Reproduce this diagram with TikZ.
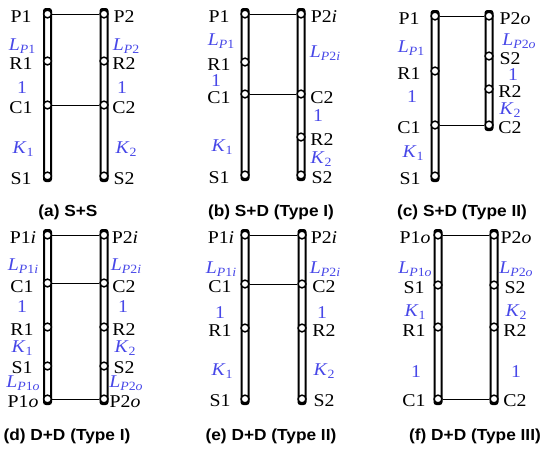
\documentclass[tikz,border=0pt]{standalone}
\usepackage{fontspec}
\setmainfont{Liberation Serif}[FakeStretch=1.1]
\newfontfamily\capfont{Liberation Sans}[FakeStretch=1.08]
\definecolor{parblue}{RGB}{72,72,232}
% lowered, smaller index for the symbols L and K
\newcommand{\lowidx}[1]{\raisebox{-3pt}{\fontsize{12.6}{13}\selectfont #1}}
\newcommand{\Lsym}[1]{\textit{L}\lowidx{\textit{P}#1}}
\newcommand{\Ksym}[1]{\textit{K}\lowidx{#1}}
\tikzset{
  bar/.style={draw, line width=2pt, rounded corners=2pt, fill=white},
  joint/.style={circle, draw, fill=white, line width=1.5pt, minimum size=7.8pt, inner sep=0pt},
  link/.style={line width=1pt},
  tag/.style={anchor=base, inner sep=0pt, font=\fontsize{18}{18}\selectfont},
  ratio/.style={tag, text=parblue},
  capt/.style={anchor=base, inner sep=0pt, font=\capfont\bfseries\fontsize{16}{16}\selectfont},
}
\begin{document}
\begin{tikzpicture}[x=1pt,y=-1pt]
\useasboundingbox (0,0) rectangle (549,451);

% ---------------- (a) S+S ----------------
\draw[bar] (44,9) rectangle (51,181);
\draw[bar] (100.5,9) rectangle (107.5,181);
\node[joint] (aP1) at (47.5,14) {};
\node[joint] (aR1) at (47.5,61) {};
\node[joint] (aC1) at (47.5,105) {};
\node[joint] (aS1) at (47.5,176) {};
\node[joint] (aP2) at (104,14) {};
\node[joint] (aR2) at (104,61) {};
\node[joint] (aC2) at (104,105) {};
\node[joint] (aS2) at (104,176) {};
\draw[link] (aP1) -- (aP2);
\draw[link] (aC1) -- (aC2);
\node[tag] (aP1t) at (21,22) {P1};
\node[tag] (aR1t) at (21,69) {R1};
\node[tag] (aC1t) at (21,113) {C1};
\node[tag] (aS1t) at (21,184) {S1};
\node[tag] (aP2t) at (124,22) {P2};
\node[tag] (aR2t) at (124,69) {R2};
\node[tag] (aC2t) at (124,113) {C2};
\node[tag] (aS2t) at (124,184) {S2};
\node[ratio] (aL1) at (22,50) {\Lsym{1}};
\node[ratio] (aU1) at (22,93) {1};
\node[ratio] (aK1) at (23,153) {\Ksym{1}};
\node[ratio] (aL2) at (126,50) {\Lsym{2}};
\node[ratio] (aU2) at (122,93) {1};
\node[ratio] (aK2) at (126,153) {\Ksym{2}};
\node[capt] (acap) at (68,216) {(a) S+S};

% ---------------- (b) S+D (Type I) ----------------
\draw[bar] (241.5,9) rectangle (248.5,180);
\draw[bar] (297.5,9) rectangle (304.5,180);
\node[joint] (bP1) at (245,14) {};
\node[joint] (bR1) at (245,62) {};
\node[joint] (bC1) at (245,94) {};
\node[joint] (bS1) at (245,175) {};
\node[joint] (bP2) at (301,14) {};
\node[joint] (bC2) at (301,94) {};
\node[joint] (bR2) at (301,137) {};
\node[joint] (bS2) at (301,175) {};
\draw[link] (bP1) -- (bP2);
\draw[link] (bC1) -- (bC2);
\node[tag] (bP1t) at (219,22) {P1};
\node[tag] (bR1t) at (219,70) {R1};
\node[tag] (bC1t) at (219,103) {C1};
\node[tag] (bS1t) at (219,183) {S1};
\node[tag] (bP2t) at (324,22) {P2\textit{i}};
\node[tag] (bC2t) at (322,103) {C2};
\node[tag] (bR2t) at (322,145) {R2};
\node[tag] (bS2t) at (322,183) {S2};
\node[ratio] (bL1) at (221,45) {\Lsym{1}};
\node[ratio] (bU1) at (216,86) {1};
\node[ratio] (bK1) at (222,151) {\Ksym{1}};
\node[ratio] (bL2) at (325,57) {\Lsym{2\textit{i}}};
\node[ratio] (bU2) at (318,121) {1};
\node[ratio] (bK2) at (321,163) {\Ksym{2}};
\node[capt] (bcap) at (271,216) {(b) S+D (Type I)};

% ---------------- (c) S+D (Type II) ----------------
\draw[bar] (431.5,11) rectangle (438.5,181);
\draw[bar] (485.5,11) rectangle (492.5,130);
\node[joint] (cP1) at (435,16) {};
\node[joint] (cR1) at (435,71) {};
\node[joint] (cC1) at (435,125) {};
\node[joint] (cS1) at (435,176) {};
\node[joint] (cP2) at (489,16) {};
\node[joint] (cS2) at (489,56) {};
\node[joint] (cR2) at (489,89) {};
\node[joint] (cC2) at (489,125) {};
\draw[link] (cP1) -- (cP2);
\draw[link] (cC1) -- (cC2);
\node[tag] (cP1t) at (409,24) {P1};
\node[tag] (cR1t) at (409,79) {R1};
\node[tag] (cC1t) at (409,133) {C1};
\node[tag] (cS1t) at (410,184) {S1};
\node[tag] (cP2t) at (515,24) {P2\textit{o}};
\node[tag] (cS2t) at (510,64) {S2};
\node[tag] (cR2t) at (510,97) {R2};
\node[tag] (cC2t) at (510,133) {C2};
\node[ratio] (cL1) at (411,52) {\Lsym{1}};
\node[ratio] (cU1) at (412,102) {1};
\node[ratio] (cK1) at (413,157) {\Ksym{1}};
\node[ratio] (cL2) at (519,45) {\Lsym{2\textit{o}}};
\node[ratio] (cU2) at (513,80) {1};
\node[ratio] (cK2) at (510,114) {\Ksym{2}};
\node[capt] (ccap) at (462,216) {(c) S+D (Type II)};

% ---------------- (d) D+D (Type I) ----------------
\draw[bar] (44,230) rectangle (51,404);
\draw[bar] (100.5,230) rectangle (107.5,404);
\node[joint] (dP1i) at (47.5,235) {};
\node[joint] (dC1) at (47.5,283) {};
\node[joint] (dR1) at (47.5,327) {};
\node[joint] (dS1) at (47.5,366) {};
\node[joint] (dP1o) at (47.5,399) {};
\node[joint] (dP2i) at (104,235) {};
\node[joint] (dC2) at (104,283) {};
\node[joint] (dR2) at (104,327) {};
\node[joint] (dS2) at (104,366) {};
\node[joint] (dP2o) at (104,399) {};
\draw[link] (dP1i) -- (dP2i);
\draw[link] (dC1) -- (dC2);
\draw[link] (dP1o) -- (dP2o);
\node[tag] (dP1it) at (23,243) {P1\textit{i}};
\node[tag] (dC1t) at (22,292) {C1};
\node[tag] (dR1t) at (22,335) {R1};
\node[tag] (dS1t) at (22,373) {S1};
\node[tag] (dP1ot) at (23,407) {P1\textit{o}};
\node[tag] (dP2it) at (125,243) {P2\textit{i}};
\node[tag] (dC2t) at (124,292) {C2};
\node[tag] (dR2t) at (124,335) {R2};
\node[tag] (dS2t) at (124,373) {S2};
\node[tag] (dP2ot) at (125,407) {P2\textit{o}};
\node[ratio] (dL1i) at (23,270) {\Lsym{1\textit{i}}};
\node[ratio] (dU1) at (22,312) {1};
\node[ratio] (dK1) at (22,352) {\Ksym{1}};
\node[ratio] (dL1o) at (23,387) {\Lsym{1\textit{o}}};
\node[ratio] (dL2i) at (126,270) {\Lsym{2\textit{i}}};
\node[ratio] (dU2) at (123,312) {1};
\node[ratio] (dK2) at (125,352) {\Ksym{2}};
\node[ratio] (dL2o) at (126,387) {\Lsym{2\textit{o}}};
\node[capt] (dcap) at (67,440) {(d) D+D (Type I)};

% ---------------- (e) D+D (Type II) ----------------
\draw[bar] (241.5,230) rectangle (248.5,404);
\draw[bar] (298.5,230) rectangle (305.5,404);
\node[joint] (eP1i) at (245,235) {};
\node[joint] (eC1) at (245,284) {};
\node[joint] (eR1) at (245,328) {};
\node[joint] (eS1) at (245,399) {};
\node[joint] (eP2i) at (302,235) {};
\node[joint] (eC2) at (302,284) {};
\node[joint] (eR2) at (302,328) {};
\node[joint] (eS2) at (302,399) {};
\draw[link] (eP1i) -- (eP2i);
\draw[link] (eC1) -- (eC2);
\node[tag] (eP1it) at (221,243) {P1\textit{i}};
\node[tag] (eC1t) at (220,292) {C1};
\node[tag] (eR1t) at (220,336) {R1};
\node[tag] (eS1t) at (220,406) {S1};
\node[tag] (eP2it) at (324,243) {P2\textit{i}};
\node[tag] (eC2t) at (324,292) {C2};
\node[tag] (eR2t) at (324,336) {R2};
\node[tag] (eS2t) at (324,406) {S2};
\node[ratio] (eL1i) at (221,273) {\Lsym{1\textit{i}}};
\node[ratio] (eU1) at (220,318) {1};
\node[ratio] (eK1) at (222,375) {\Ksym{1}};
\node[ratio] (eL2i) at (325,273) {\Lsym{2\textit{i}}};
\node[ratio] (eU2) at (322,318) {1};
\node[ratio] (eK2) at (324,375) {\Ksym{2}};
\node[capt] (ecap) at (271,440) {(e) D+D (Type II)};

% ---------------- (f) D+D (Type III) ----------------
\draw[bar] (434.5,230) rectangle (441.5,404);
\draw[bar] (490.5,230) rectangle (497.5,404);
\node[joint] (fP1o) at (438,235) {};
\node[joint] (fS1) at (438,285) {};
\node[joint] (fR1) at (438,327) {};
\node[joint] (fC1) at (438,399) {};
\node[joint] (fP2o) at (494,235) {};
\node[joint] (fS2) at (494,285) {};
\node[joint] (fR2) at (494,327) {};
\node[joint] (fC2) at (494,399) {};
\draw[link] (fP1o) -- (fP2o);
\draw[link] (fC1) -- (fC2);
\node[tag] (fP1ot) at (415,243) {P1\textit{o}};
\node[tag] (fS1t) at (414,293) {S1};
\node[tag] (fR1t) at (414,336) {R1};
\node[tag] (fC1t) at (414,406) {C1};
\node[tag] (fP2ot) at (516,243) {P2\textit{o}};
\node[tag] (fS2t) at (515,293) {S2};
\node[tag] (fR2t) at (515,336) {R2};
\node[tag] (fC2t) at (515,406) {C2};
\node[ratio] (fL1o) at (415,273) {\Lsym{1\textit{o}}};
\node[ratio] (fK1) at (415,316) {\Ksym{1}};
\node[ratio] (fU1) at (416,377) {1};
\node[ratio] (fL2o) at (516,273) {\Lsym{2\textit{o}}};
\node[ratio] (fK2) at (516,316) {\Ksym{2}};
\node[ratio] (fU2) at (516,377) {1};
\node[capt] (fcap) at (475,440) {(f) D+D (Type III)};
\end{tikzpicture}
\end{document}
